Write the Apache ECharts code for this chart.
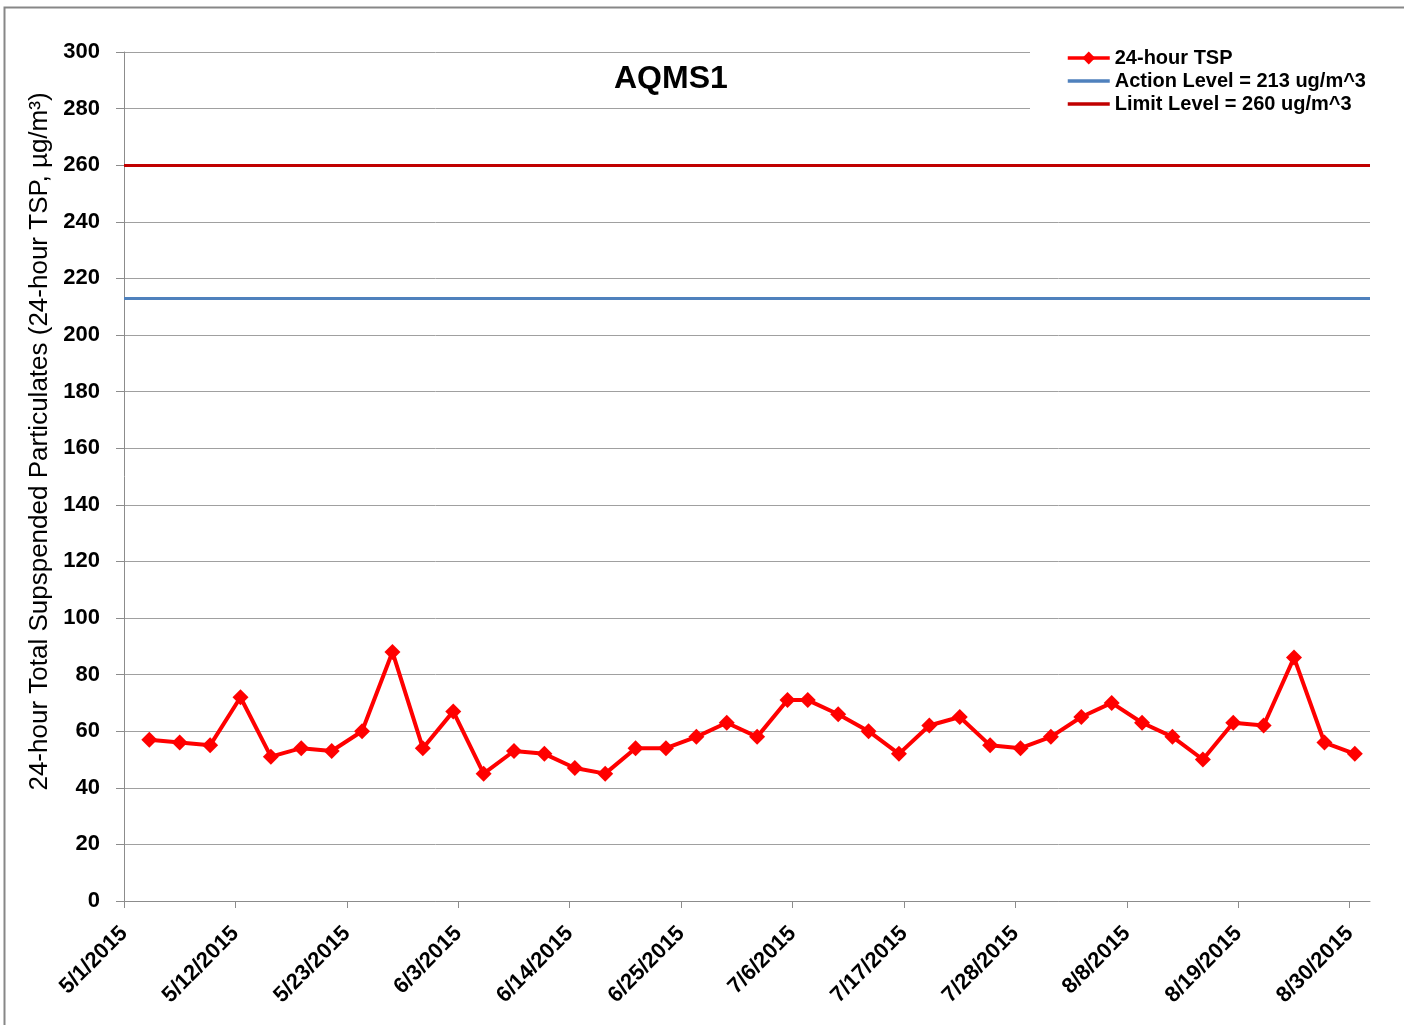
<!DOCTYPE html>
<html>
<head>
<meta charset="utf-8">
<title>AQMS1</title>
<script src="https://cdn.jsdelivr.net/npm/echarts@6/dist/echarts.min.js"></script>
<style>
  html, body { margin: 0; padding: 0; background: #fff; }
  #chart { width: 1404px; height: 1025px; }
</style>
</head>
<body>
<div id="chart"></div>
<script>
// 24-hour TSP readings (every 3 days)
var sampleDates = [
  '5/3/2015', '5/6/2015', '5/9/2015', '5/12/2015', '5/15/2015', '5/18/2015', '5/21/2015',
  '5/24/2015', '5/27/2015', '5/30/2015', '6/2/2015', '6/5/2015', '6/8/2015', '6/11/2015',
  '6/14/2015', '6/17/2015', '6/20/2015', '6/23/2015', '6/26/2015', '6/29/2015', '7/2/2015',
  '7/5/2015', '7/7/2015', '7/10/2015', '7/13/2015', '7/16/2015', '7/19/2015', '7/22/2015',
  '7/25/2015', '7/28/2015', '7/31/2015', '8/3/2015', '8/6/2015', '8/9/2015', '8/12/2015',
  '8/15/2015', '8/18/2015', '8/21/2015', '8/24/2015', '8/27/2015', '8/30/2015'
]
var tspValues = [
  57, 56, 55, 72, 51, 54, 53,
  60, 88, 54, 67, 45, 53, 52,
  47, 45, 54, 54, 58, 63, 58,
  71, 71, 66, 60, 52, 62, 65,
  55, 54, 58, 65, 70, 63, 58,
  50, 63, 62, 86, 56, 52
]
var actionLevel = 213
var limitLevel = 260

// x axis: dates from 5/1/2015, tick every 11 days
var axisStart = '5/1/2015'
var axisEnd = '9/1/2015'
var tickDates = [
  '5/1/2015', '5/12/2015', '5/23/2015', '6/3/2015', '6/14/2015', '6/25/2015',
  '7/6/2015', '7/17/2015', '7/28/2015', '8/8/2015', '8/19/2015', '8/30/2015'
]

var DAY = 86400000
function toUtc(s) {
  var p = s.split('/')
  return Date.UTC(+p[2], +p[0] - 1, +p[1])
}
var t0 = toUtc(axisStart)
function dayOf(s) {
  return (toUtc(s) - t0) / DAY
}
function dayLabel(d) {
  var dt = new Date(t0 + Math.round(d) * DAY)
  return (dt.getUTCMonth() + 1) + '/' + dt.getUTCDate() + '/' + dt.getUTCFullYear()
}

// excel puts each day's point in the middle of the day
var tspData = sampleDates.map(function(s, i) {
  return [dayOf(s) + 0.5, tspValues[i]]
})
var tickDays = tickDates.map(dayOf)

var font = '"Liberation Sans", Arial, sans-serif'

var chart = echarts.init(document.getElementById('chart'))
chart.setOption({
  backgroundColor: '#fff',
  animation: false,
  textStyle: { fontFamily: font },
  title: {
    text: 'AQMS1',
    left: 614,
    top: 63,
    padding: 0,
    textStyle: { fontSize: 32, fontWeight: 'bold', color: '#000', fontFamily: font }
  },
  legend: {
    left: 1030,
    top: 38,
    orient: 'vertical',
    padding: [10, 50, 10, 36],
    backgroundColor: '#fff',
    itemWidth: 42,
    itemHeight: 16,
    itemGap: 3,
    lineStyle: { width: 3.5 },
    textStyle: { fontSize: 20, fontWeight: 'bold', color: '#000', fontFamily: font },
    data: [
      { name: '24-hour TSP' },
      { name: 'Action Level = 213 ug/m^3', itemStyle: { opacity: 0 } },
      { name: 'Limit Level = 260 ug/m^3', itemStyle: { opacity: 0 } }
    ]
  },
  graphic: [{
    type: 'rect',
    left: 2,
    top: 5,
    shape: { width: 1410, height: 1019 },
    style: { fill: null, stroke: '#878787', lineWidth: 2 },
    silent: true
  }],
  grid: {
    left: 124,
    right: 34,
    top: 52,
    bottom: 124,
    containLabel: false
  },
  xAxis: {
    type: 'value',
    min: dayOf(axisStart),
    max: dayOf(axisEnd),
    interval: 11,
    axisLine: { show: true, lineStyle: { color: '#8c8c8c', width: 1 } },
    axisTick: { show: true, length: 7, lineStyle: { color: '#8c8c8c' }, customValues: tickDays },
    splitLine: { show: false },
    axisLabel: {
      customValues: tickDays,
      rotate: 45,
      margin: 29,
      fontSize: 22,
      fontWeight: 'bold',
      color: '#000',
      fontFamily: font,
      formatter: function(v) { return dayLabel(v) }
    }
  },
  yAxis: {
    type: 'value',
    min: 0,
    max: 300,
    interval: 20,
    name: '24-hour Total Supspended Particulates (24-hour TSP, µg/m³)',
    nameLocation: 'middle',
    nameGap: 70,
    nameTextStyle: { fontSize: 26, color: '#000', fontFamily: font, padding: [0, 0, 0, 70] },
    axisLine: { show: true, lineStyle: { color: '#8c8c8c', width: 1 } },
    axisTick: { show: true, length: 8, lineStyle: { color: '#8c8c8c' } },
    splitLine: { show: true, lineStyle: { color: '#a0a0a0', width: 1 } },
    axisLabel: { margin: 24, fontSize: 22, fontWeight: 'bold', color: '#000', fontFamily: font }
  },
  series: [
    {
      name: '24-hour TSP',
      type: 'line',
      data: tspData,
      symbol: 'diamond',
      symbolSize: 16,
      z: 5,
      itemStyle: { color: '#ff0000' },
      lineStyle: { color: '#ff0000', width: 4 }
    },
    {
      name: 'Action Level = 213 ug/m^3',
      type: 'line',
      data: [],
      symbol: 'none',
      itemStyle: { color: '#4f81bd' },
      lineStyle: { color: '#4f81bd', width: 3 },
      markLine: {
        silent: true,
        symbol: ['none', 'none'],
        label: { show: false },
        lineStyle: { color: '#4f81bd', width: 3, type: 'solid' },
        data: [{ yAxis: actionLevel }]
      }
    },
    {
      name: 'Limit Level = 260 ug/m^3',
      type: 'line',
      data: [],
      symbol: 'none',
      itemStyle: { color: '#c00000' },
      lineStyle: { color: '#c00000', width: 3 },
      markLine: {
        silent: true,
        symbol: ['none', 'none'],
        label: { show: false },
        lineStyle: { color: '#c00000', width: 3, type: 'solid' },
        data: [{ yAxis: limitLevel }]
      }
    }
  ]
})
</script>
</body>
</html>
